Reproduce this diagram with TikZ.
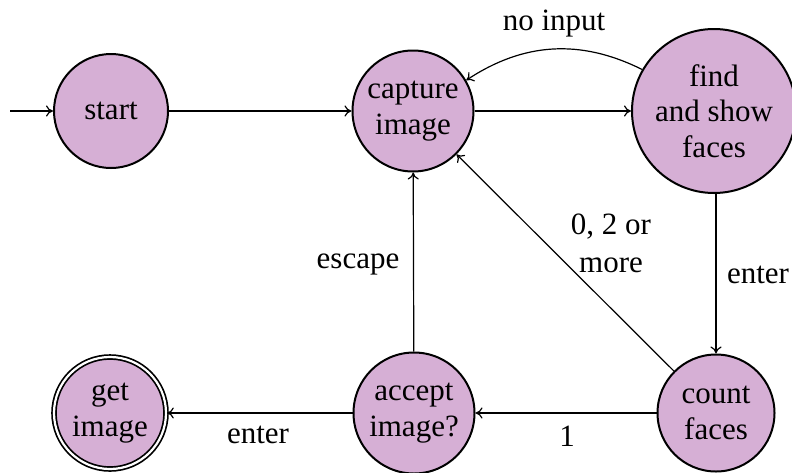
\documentclass[tikz,border=0pt]{standalone}
\usepackage{fontspec}
\setmainfont{Liberation Serif}
\usetikzlibrary{arrows.meta}
\definecolor{nodefill}{RGB}{214,175,213}
\tikzset{
  statebox/.style={circle, draw=black, line width=2pt, fill=nodefill, align=center,
    inner sep=0pt, font=\fontsize{31}{35.5}\selectfont},
  finalbox/.style={statebox, double=white, double distance=2.2pt, line width=1.7pt},
  conn/.style={line width=1.2pt, -{Computer Modern Rightarrow[length=7pt,width=11pt]}},
  lbl/.style={font=\fontsize{31}{38}\selectfont, inner sep=0pt, align=center}
}
\begin{document}
\begin{tikzpicture}[x=1pt,y=-1pt]
\useasboundingbox (0,0) rectangle (792,472);
\node[statebox, minimum size=114] (start) at (111,111) {start};
\node[statebox, minimum size=121] (capture) at (413,111) {capture\\image};
\node[statebox, minimum size=164] (find) at (714,111) {find\\and show\\faces};
\node[statebox, minimum size=117] (count) at (716,413) {count\\faces};
\node[statebox, minimum size=121] (accept) at (414,413) {accept\\image?};
\node[finalbox, minimum size=112] (get) at (110,413) {get\\image};
\coordinate (init) at (10,111);

\draw[conn] (init) -- (start);
\draw[conn] (start) -- (capture);
\draw[conn] (capture) -- (find);
\draw[conn] (find) to[bend right=30] (capture);
\draw[conn] (find.south -| count.north) -- (count.north);
\draw[conn] (count) -- (capture);
\draw[conn] (count) -- (accept);
\draw[conn] (accept) -- (capture);
\draw[conn] (accept) -- (get);

\node[lbl, anchor=base] (lnoinput) at (554,30) {no input};
\node[lbl] (lmore) at (611,243) {0, 2 or\\more};
\node[lbl, anchor=base] (lenterr) at (758,283) {enter};
\node[lbl, anchor=base] (lescape) at (358,268) {escape};
\node[lbl, anchor=base] (lenterb) at (258,443) {enter};
\node[lbl, anchor=base] (lone) at (567,446) {1};
\end{tikzpicture}
\end{document}
